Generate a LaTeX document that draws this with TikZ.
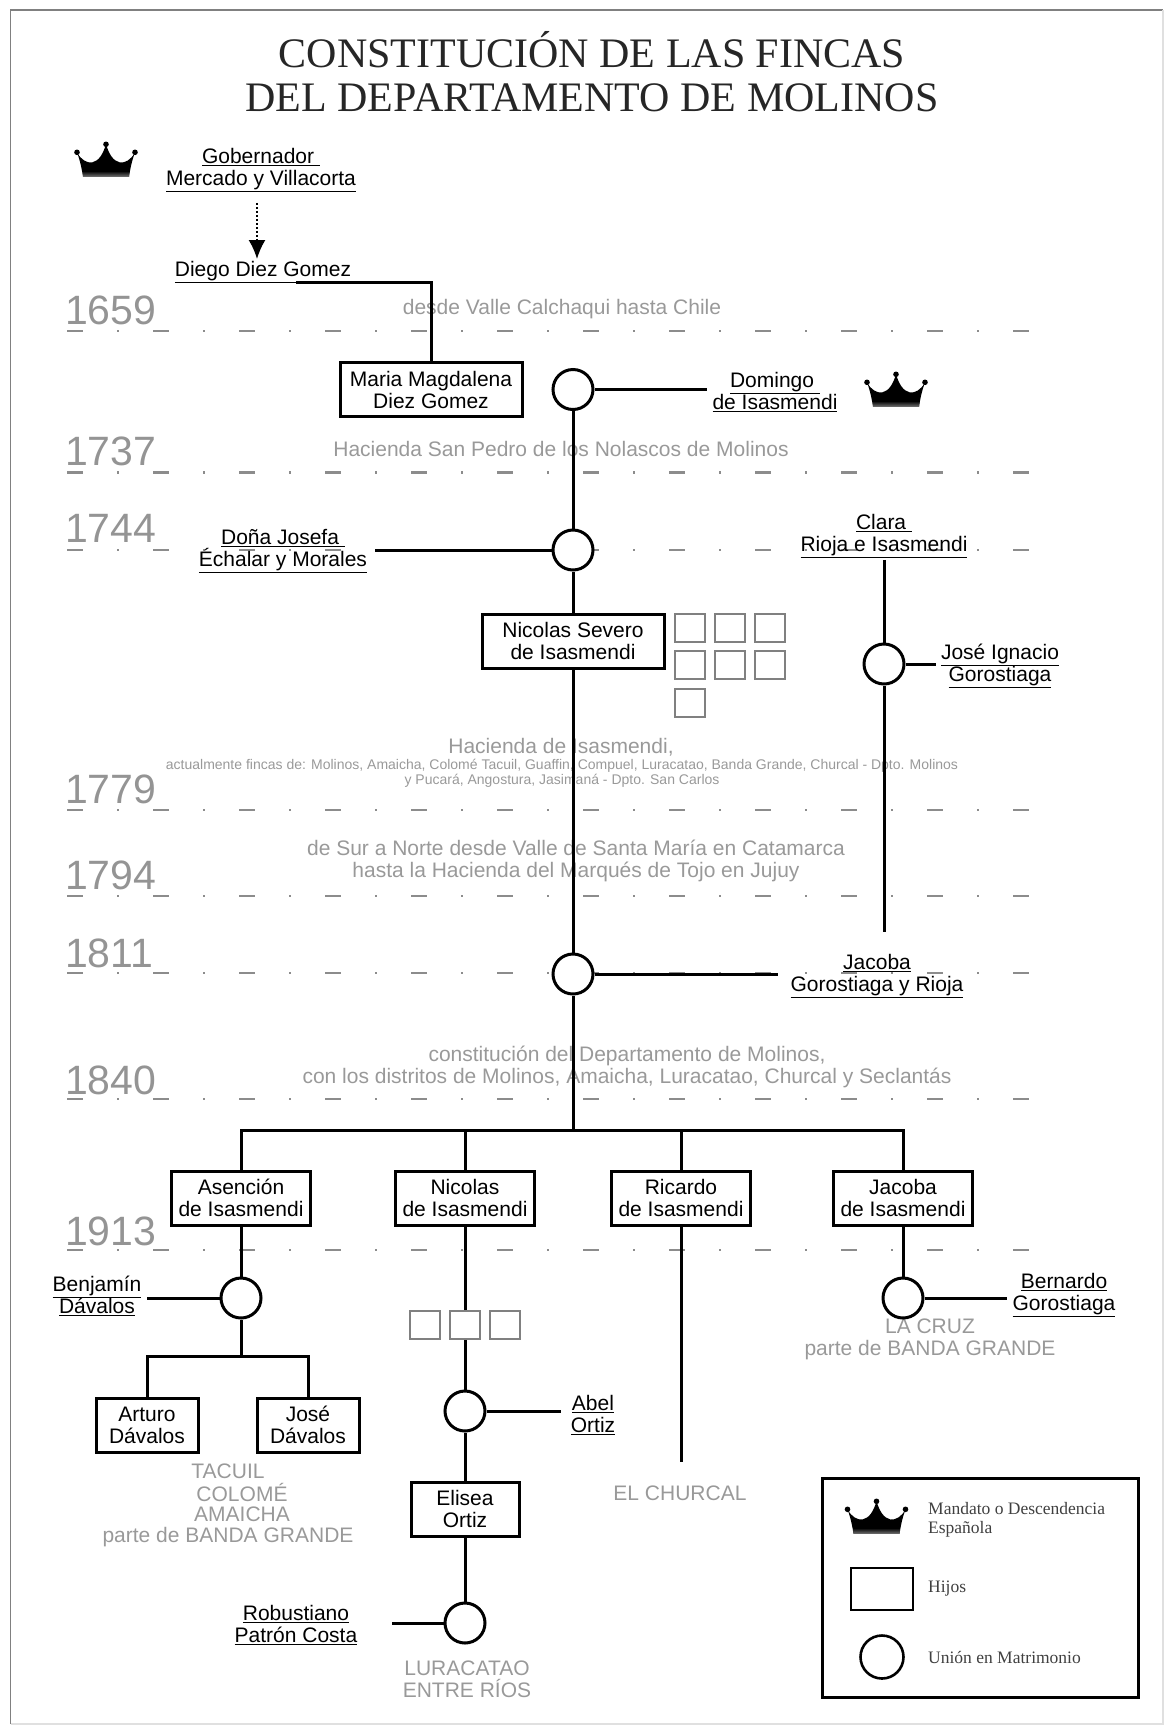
\documentclass[tikz,border=0pt]{standalone}
\usepackage{fontspec}
\setmainfont{Liberation Sans}
\newfontfamily\serifface{Liberation Serif}
\usetikzlibrary{arrows.meta}
\tikzset{crown/.pic={
	\fill [black] (-23,-16.7) .. controls (-25,-4) and (-27,2) .. (-29,7.7) .. controls (-25,0) and (-19,-3) .. (-14,-2.5) .. controls (-7,-1) and (-3,6) .. (0,15.7) .. controls (3,6) and (7,-1) .. (14,-2.5) .. controls (19,-3) and (25,0) .. (29,7.7) .. controls (27,2) and (25,-4) .. (23,-16.7) -- cycle;
	\shade [top color=black,bottom color=black!55] (-23,-16.7) rectangle (23,-11);
	\fill [black] (-29,7.7) circle (2.8);
	\fill [black] (0,15.7) circle (2.8);
	\fill [black] (29,7.7) circle (2.8);
}}
\begin{document}
\begin{tikzpicture}[x=1pt,y=1pt]
	\tikzstyle{every node}+=[inner sep=0pt]
	\tikzstyle{link}=[draw=black,line width=3pt]
	\tikzstyle{timeline}=[draw=black!45,line width=2.6pt,dash pattern=on 16pt off 34pt on 2pt off 34pt]
	\tikzstyle{yearmark}=[anchor=west,text=black!42,font=\fontsize{41}{42}\selectfont]
	\tikzstyle{place}=[text=black!40,align=center,font=\fontsize{21}{22}\selectfont]
	\tikzstyle{placesmall}=[text=black!40,align=center,font=\fontsize{14}{15}\selectfont]
	\tikzstyle{person}=[align=center,inner xsep=5pt,inner ysep=2pt,font=\fontsize{21}{22}\selectfont]
	\tikzstyle{heir}=[person,draw=black,fill=white,line width=3pt,minimum height=54pt]
	\tikzstyle{union}=[circle,draw=black,fill=white,line width=3pt,minimum size=40pt]
	\tikzstyle{child}=[draw=black!50,fill=white,line width=2pt,minimum width=30pt,minimum height=28pt]
	\tikzstyle{legendtext}=[anchor=west,align=left,text=black!75,font=\serifface\fontsize{17.5}{19}\selectfont]
	\useasboundingbox (0,0) rectangle (1169,-1727);
	\draw [black!50,line width=1.6pt] (10.5,-1724) -- (10.5,-10) -- (1163,-10);
	\draw [black!12,line width=1.5pt] (1163,-10) -- (1163,-1724) -- (10.5,-1724);
	\node (title) [align=center,text=black!85,font=\serifface\fontsize{42}{44}\selectfont] at (592,-71.5) {CONSTITUCIÓN DE LAS FINCAS\\DEL DEPARTAMENTO DE MOLINOS};
	\draw [timeline] (67,-331) -- (1031,-331);
	\draw [timeline] (67,-472.5) -- (1031,-472.5);
	\draw [timeline] (67,-550) -- (1031,-550);
	\draw [timeline] (67,-810) -- (1031,-810);
	\draw [timeline] (67,-896) -- (1031,-896);
	\draw [timeline] (67,-973) -- (1031,-973);
	\draw [timeline] (67,-1099) -- (1031,-1099);
	\draw [timeline] (67,-1250) -- (1031,-1250);
	\node (year1659) [yearmark] at (65,-310) {1659};
	\node (year1737) [yearmark] at (65,-451.5) {1737};
	\node (year1744) [yearmark] at (65,-528) {1744};
	\node (year1779) [yearmark] at (65,-789) {1779};
	\node (year1794) [yearmark] at (65,-875) {1794};
	\node (year1811) [yearmark] at (65,-953.5) {1811};
	\node (year1840) [yearmark] at (65,-1080) {1840};
	\node (year1913) [yearmark] at (65,-1231) {1913};
	\node (chile) [place] at (562,-309) {desde Valle Calchaqui hasta Chile};
	\node (nolascos) [place] at (561,-449) {Hacienda San Pedro de los Nolascos de Molinos};
	\node (hacienda) [place] at (561,-747.5) {Hacienda de Isasmendi,};
	\node (fincas) [placesmall] at (562,-773.5) {actualmente fincas de: Molinos, Amaicha, Colomé Tacuil, Guaffin, Compuel, Luracatao, Banda Grande, Churcal - Dpto. Molinos\\y Pucará, Angostura, Jasimaná - Dpto. San Carlos};
	\node (surnorte) [place] at (576,-860.5) {de Sur a Norte desde Valle de Santa María en Catamarca\\hasta la Hacienda del Marqués de Tojo en Jujuy};
	\node (distritos) [place] at (627,-1067) {constitución del Departamento de Molinos,\\con los distritos de Molinos, Amaicha, Luracatao, Churcal y Seclantás};
	\node (lacruz) [place] at (930,-1339.5) {LA CRUZ\\parte de BANDA GRANDE};
	\node (tacuil) [place] at (228,-1471) {TACUIL};
	\node (colome) [place] at (242,-1492) {COLOMÉ};
	\node (amaicha) [place] at (242,-1514) {AMAICHA};
	\node (bandagrande) [place] at (228,-1537) {parte de BANDA GRANDE};
	\node (churcal) [place] at (680,-1493) {EL CHURCAL};
	\node (luracatao) [place] at (467,-1679) {LURACATAO\\ENTRE RÍOS};
	\node (gob) [person] at (261,-170) {\underline{Gobernador\ }\\\underline{Mercado y Villacorta}};
	\node (diego) [person] at (263,-272) {\underline{Diego Diez Gomez}};
	\node (domingo) [person] at (775,-392) {\underline{Domingo\ }\\\underline{de Isasmendi}};
	\node (josefa) [person] at (283,-551) {\underline{Doña Josefa\ }\\\underline{Échalar y Morales}};
	\node (clara) [person] at (884,-536) {\underline{Clara\ }\\\underline{Rioja e Isasmendi}};
	\node (ignacio) [person] at (1000,-666) {\underline{José Ignacio}\\\underline{Gorostiaga}};
	\node (jacobag) [person] at (877,-976) {\underline{Jacoba}\\\underline{Gorostiaga y Rioja}};
	\node (benjamin) [person] at (97,-1296) {\underline{Benjamín}\\\underline{Dávalos}};
	\node (bernardo) [person] at (1064,-1295) {\underline{Bernardo}\\\underline{Gorostiaga}};
	\node (abel) [person] at (593,-1415) {\underline{Abel}\\\underline{Ortiz}};
	\node (robustiano) [person] at (296,-1625) {\underline{Robustiano}\\\underline{Patrón Costa}};
	\node (maria) [heir,minimum width=182pt] at (431,-389.5) {Maria Magdalena\\Diez Gomez};
	\node (severo) [heir,minimum width=182pt] at (573,-641) {Nicolas Severo\\de Isasmendi};
	\node (asencion) [heir,minimum width=139pt] at (241,-1198) {Asención\\de Isasmendi};
	\node (nicolas) [heir,minimum width=139pt] at (465,-1198) {Nicolas\\de Isasmendi};
	\node (ricardo) [heir,minimum width=139pt] at (681,-1198) {Ricardo\\de Isasmendi};
	\node (jacoba) [heir,minimum width=139pt] at (903,-1198) {Jacoba\\de Isasmendi};
	\node (arturo) [heir,minimum width=102pt] at (147,-1425) {Arturo\\Dávalos};
	\node (jose) [heir,minimum width=102pt] at (308,-1425) {José\\Dávalos};
	\node (elisea) [heir,minimum width=108pt] at (465,-1509) {Elisea\\Ortiz};
	\node (unionA) [union] at (573,-389.5) {};
	\node (unionB) [union] at (573,-550) {};
	\node (unionC) [union] at (884,-664) {};
	\node (unionD) [union] at (573,-974) {};
	\node (unionE) [union] at (241,-1298) {};
	\node (unionF) [union] at (903,-1298) {};
	\node (unionG) [union] at (465,-1411) {};
	\node (unionH) [union] at (465,-1623) {};
	\coordinate (diegoend) at (296,-282);
	\coordinate (claraend) at (884,-932);
	\coordinate (trunk) at (573,-1130);
	\coordinate (fork) at (241,-1356);
	\coordinate (ricardoend) at (681,-1462);
	\draw [black,line width=2pt,dash pattern=on 2pt off 2pt,shorten <=9pt,-{Latex[length=19pt,width=17pt]}] ([xshift=-4pt]gob.south) -- ([xshift=-6pt]diego.north);
	\draw [link] (diegoend) -| (maria);
	\draw [link] (unionA) -- (unionA -| domingo.west);
	\draw [link] (unionA) -- (unionB);
	\draw [link,shorten >=3pt] (unionB) -- (unionB -| josefa.east);
	\draw [link] (unionB) -- (severo);
	\draw [link] (severo) -- (unionD);
	\draw [link] (unionD) -- (trunk);
	\draw [link,shorten >=7pt] (unionD) -- (unionD -| jacobag.west);
	\draw [link] (clara) -- (unionC);
	\draw [link] (unionC) -- (claraend);
	\draw [link] (unionC) -- (unionC -| ignacio.west);
	\draw [link] (asencion) |- (trunk);
	\draw [link] (jacoba) |- (trunk);
	\draw [link] (nicolas) -- (nicolas |- trunk);
	\draw [link] (ricardo) -- (ricardo |- trunk);
	\draw [link] (asencion) -- (unionE);
	\draw [link] (unionE) -- (unionE -| benjamin.east);
	\draw [link] (unionE) -- (fork);
	\draw [link] (arturo) |- (fork);
	\draw [link] (jose) |- (fork);
	\draw [link] (nicolas) -- (unionG);
	\draw [link,shorten >=5pt] (unionG) -- (unionG -| abel.west);
	\draw [link] (unionG) -- (elisea);
	\draw [link] (elisea) -- (unionH);
	\draw [link,shorten >=30pt] (unionH) -- (unionH -| robustiano.east);
	\draw [link] (ricardo) -- (ricardoend);
	\draw [link] (jacoba) -- (unionF);
	\draw [link] (unionF) -- (unionF -| bernardo.west);
	\node (childA) [child] at (690,-628) {};
	\node (childB) [child] at (730,-628) {};
	\node (childC) [child] at (769.5,-628) {};
	\node (childD) [child] at (690,-665) {};
	\node (childE) [child] at (730,-665) {};
	\node (childF) [child] at (769.5,-665) {};
	\node (childG) [child] at (690,-702.5) {};
	\node (childH) [child] at (425,-1324.5) {};
	\node (childI) [child] at (465,-1324.5) {};
	\node (childJ) [child] at (504.5,-1324.5) {};
	\pic at (106,-160) {crown};
	\pic at (896,-390) {crown};
	\node (legend) [draw=black,line width=3pt,minimum width=316pt,minimum height=219pt] at (980,-1587.5) {};
	\pic at (876.5,-1517) {crown};
	\node (legendchild) [draw=black,line width=2.6pt,minimum width=62pt,minimum height=42pt] at (882,-1589) {};
	\node (legendunion) [circle,draw=black,line width=2.6pt,minimum size=43pt] at (882,-1657) {};
	\node (legendA) [legendtext] at (928,-1520) {Mandato o Descendencia\\Española};
	\node (legendB) [legendtext] at (928,-1589) {Hijos};
	\node (legendC) [legendtext] at (928,-1657) {Unión en Matrimonio};
\end{tikzpicture}
\end{document}
